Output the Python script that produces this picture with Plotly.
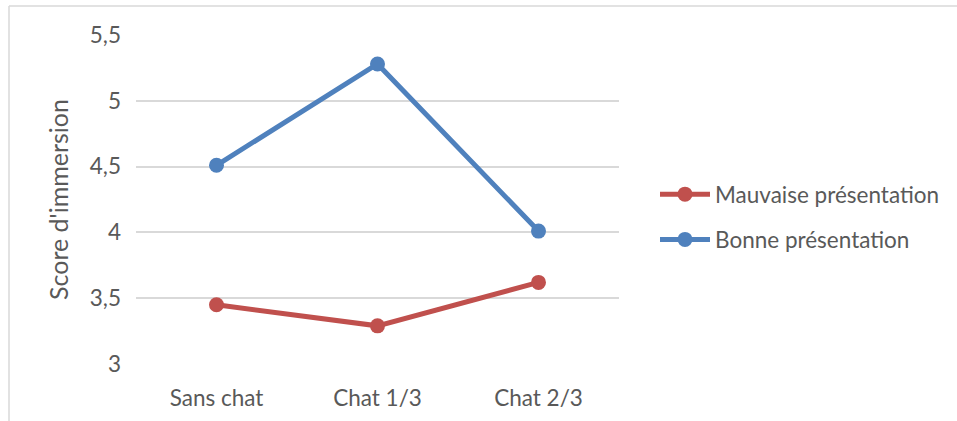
import plotly.graph_objects as go

categories = ["Sans chat", "Chat 1/3", "Chat 2/3"]
mauvaise = [3.45, 3.29, 3.62]
bonne = [4.51, 5.28, 4.01]
y_ticks = [3, 3.5, 4, 4.5, 5, 5.5]
y_tick_labels = ["3", "3,5", "4", "4,5", "5", "5,5"]

RED = "#C0504D"
BLUE = "#4F81BD"
TEXT = "#595959"
GRID = "#D9D9D9"
FONT = "Lato"
FS = 22.5

fig = go.Figure()
fig.add_trace(go.Scatter(
    x=categories, y=mauvaise, name="Mauvaise présentation",
    mode="lines+markers", legendgroup="a",
    line=dict(color=RED, width=5),
    marker=dict(color=RED, size=15),
))
fig.add_trace(go.Scatter(
    x=categories, y=bonne, name="Bonne présentation",
    mode="lines+markers", legendgroup="b",
    line=dict(color=BLUE, width=5),
    marker=dict(color=BLUE, size=15),
))

W, H = 957, 421
L, R, T, B = 136, 338, 35, 57
pw = W - L - R
ph = H - T - B

def px_x(p):
    return (p - L) / pw

def px_y(p):
    return 1 - (p - T) / ph

# outer chart frame (top and left edges)
fig.add_shape(type="line", xref="paper", yref="paper",
              x0=px_x(9), x1=px_x(W + 5), y0=px_y(6), y1=px_y(6),
              line=dict(color=GRID, width=1.5))
fig.add_shape(type="line", xref="paper", yref="paper",
              x0=px_x(9), x1=px_x(9), y0=px_y(6), y1=px_y(H + 5),
              line=dict(color=GRID, width=1.5))

fig.update_layout(
    width=W, height=H,
    margin=dict(l=L, r=R, t=T, b=B),
    paper_bgcolor="white", plot_bgcolor="white",
    font=dict(family=FONT, color=TEXT, size=FS),
    showlegend=True,
    legend=dict(
        x=px_x(655), y=px_y(173), xanchor="left", yanchor="top",
        font=dict(size=FS, color=TEXT),
        tracegroupgap=13, traceorder="grouped",
        itemwidth=50,
    ),
    xaxis=dict(
        type="category", range=[-0.5, 2.5], automargin=False,
        showgrid=False, zeroline=False, showline=False,
        ticks="outside", ticklen=6, tickcolor="rgba(0,0,0,0)",
        ticklabelstandoff=8,
        tickfont=dict(size=FS, color=TEXT),
    ),
    yaxis=dict(
        range=[3, 5.5], tickvals=y_ticks, ticktext=y_tick_labels,
        showgrid=True, gridcolor=GRID, gridwidth=1.5,
        zeroline=False, showline=False, ticks="",
        ticklabelstandoff=14,
        tickfont=dict(size=FS, color=TEXT),
        title=dict(text="Score d'immersion", font=dict(size=25, color=TEXT), standoff=14),
    ),
)

fig.write_html("out.html")
